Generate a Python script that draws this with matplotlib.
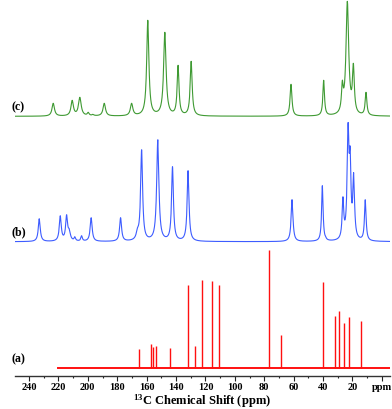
import numpy as np
import matplotlib.pyplot as plt

### DATA ###
# (a) solution spectrum, stick peaks: shift (ppm) and height (px)
a_ppm = [165.1, 156.9, 155.8, 153.9, 144.2, 131.8, 126.8, 122.3, 115.2,
         110.7, 77.0, 68.3, 40.1, 31.7, 29.4, 25.8, 22.6, 14.0]
a_height = [19, 24, 21, 22, 20, 83, 22, 88, 87,
            83, 118, 33, 86, 52, 57, 45, 51, 47]

# (b) solid-state spectrum: shift, height, width (ppm)
b_ppm = [233.0, 218.7, 214.4, 212.6, 208.8, 204.2, 197.7, 177.7, 166.2,
         163.4, 152.4, 142.4, 139.5, 131.8, 61.1, 40.5, 38.2, 26.5, 23.0,
         21.6, 19.2, 11.3]
b_height = [23, 26, 27, 13, 5, 6, 24, 24, 14,
            92, 102, 75, 4, 71, 42, 56, 5, 45, 119,
            95, 69, 42]
b_width = [1.6, 1.6, 1.6, 1.8, 1.2, 1.2, 1.6, 1.6, 2.0,
           1.6, 1.8, 1.5, 1.2, 1.5, 1.5, 1.2, 1.0, 1.3, 1.5,
           1.3, 1.4, 1.3]

# (c) solid-state spectrum: shift, height, width (ppm)
c_ppm = [223.5, 210.6, 205.4, 199.7, 196.5, 188.8, 170.2, 161.9, 159.2,
         147.6, 138.6, 129.7, 61.8, 39.6, 26.9, 23.5, 19.4, 10.8]
c_height = [13, 16, 19, 4, 2, 13, 13, 10, 96,
            84, 51, 55, 32, 36, 36, 115, 53, 24]
c_width = [2.0, 2.0, 2.2, 1.5, 1.5, 2.0, 2.0, 2.5, 1.8,
           2.0, 1.5, 1.6, 1.5, 1.3, 1.4, 2.2, 1.5, 1.4]

ticks = list(range(240, -1, -20))
tick_labels = [str(t) for t in ticks[:-1]] + ['ppm']
labels = ['(a)', '(b)', '(c)']


### CODE ###
def lorentz_sum(x, centers, heights, widths):
    # amplitudes chosen so the summed curve reaches the read heights at each peak
    centers = np.asarray(centers, float)
    widths = np.asarray(widths, float)

    def shape(xx, c, w):
        return 1.0 / (1.0 + ((xx - c) / (w / 2.0)) ** 2)

    M = shape(centers[:, None], centers[None, :], widths[None, :])
    amps = np.clip(np.linalg.solve(M, np.asarray(heights, float)), 0, None)
    return (amps[None, :] * shape(x[:, None], centers[None, :], widths[None, :])).sum(axis=1)


plt.rcParams['font.family'] = ['Liberation Serif', 'DejaVu Serif']
plt.rcParams['font.weight'] = 'bold'
plt.rcParams['mathtext.fontset'] = 'custom'
plt.rcParams['mathtext.rm'] = 'Liberation Serif:bold'

W, H = 392, 409
fig = plt.figure(figsize=(W / 100, H / 100), dpi=100)
axis_y = 375.7
ax = fig.add_axes([15 / W, (H - axis_y) / H, 375 / W, axis_y / H])

x = np.linspace(-5.5, 249.5, 6000)
base_a, base_b, base_c = 7.7, 134.0, 259.4

# (c)
ax.plot(x, base_c + lorentz_sum(x, c_ppm, c_height, c_width), color='#3f9a33', lw=0.8)
# (b)
ax.plot(x, base_b + lorentz_sum(x, b_ppm, b_height, b_width), color='#3d5cff', lw=0.8)
# (a)
ax.plot([220, -5.5], [base_a, base_a], color='#ff1010', lw=1.4)
ax.vlines(a_ppm, base_a, base_a + np.array(a_height), color='#ff1010', lw=1.0)

for lab, yb in zip(labels, [base_a, base_b, base_c]):
    ax.text(252.0, yb + 9, lab, ha='left', va='center', fontsize=8.5, fontweight='bold')

ax.set_xlim(249.5, -5.5)
ax.set_ylim(0, axis_y)
ax.set_xticks(ticks)
ax.set_xticklabels(tick_labels)
ax.set_xticks(range(240, -1, -10), minor=True)
ax.tick_params(axis='x', which='major', direction='out', length=3.5, width=0.8,
               labelsize=7.5, pad=1.5, color='#222222')
ax.tick_params(axis='x', which='minor', direction='out', length=1.5, width=0.8, color='#222222')
ax.set_yticks([])
for s in ['left', 'right', 'top']:
    ax.spines[s].set_visible(False)
ax.spines['bottom'].set_color('#333333')
ax.spines['bottom'].set_linewidth(1.0)
ax.patch.set_alpha(0)

fig.text(202 / W, (H - 401) / H, r'$\mathregular{^{13}}$C Chemical Shift (ppm)',
         ha='center', va='center', fontsize=9, fontweight='bold')

fig.savefig('out.png', dpi=100)
